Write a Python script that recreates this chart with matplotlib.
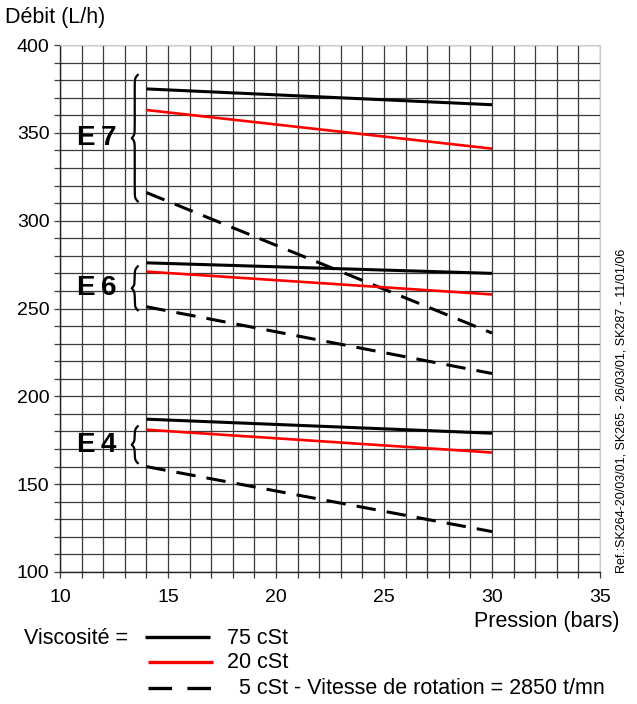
import matplotlib
matplotlib.use('Agg')
import matplotlib.pyplot as plt
from matplotlib.lines import Line2D
import numpy as np

plt.rcParams['font.family'] = ['Liberation Sans', 'DejaVu Sans']
plt.rcParams['lines.scale_dashes'] = False

# Pression (bars) at start / end of each curve
pression = [14, 30]

# Débit (L/h) for each pump size and viscosity
e7_75 = [375, 366]
e7_20 = [363, 341]
e7_5 = [316, 236]
e6_75 = [276, 270]
e6_20 = [271, 258]
e6_5 = [251, 213]
e4_75 = [187, 179]
e4_20 = [181, 168]
e4_5 = [160, 123]

pompes = ['E7', 'E6', 'E4']
series = [(e7_75, e7_20, e7_5), (e6_75, e6_20, e6_5), (e4_75, e4_20, e4_5)]
# vertical extent of each brace (top, bottom)
accolades = [(383, 311), (274, 249), (183, 162)]

fig = plt.figure(figsize=(6.37, 7.04), dpi=100)
ax = fig.add_axes((60 / 637, 1 - 572 / 704, 540 / 637, 527 / 704))

ax.set_xlim(10, 35)
ax.set_ylim(100, 400)
ax.set_xticks(np.arange(10, 36, 5))
ax.set_xticks(np.arange(10, 36, 1), minor=True)
ax.set_yticks(np.arange(100, 401, 50))
ax.set_yticks(np.arange(100, 401, 10), minor=True)
ax.grid(True, which='both', color='#3a3a3a', linewidth=0.9)
ax.set_axisbelow(True)
ax.tick_params(which='both', length=4.5, width=0.9, color='#3a3a3a',
               labelsize=14, pad=3)
ax.tick_params(axis='x', pad=8)
for s in ['top', 'right']:
    ax.spines[s].set_color('#cccccc')
for s in ['left', 'bottom']:
    ax.spines[s].set_color('#222222')
    ax.spines[s].set_linewidth(1.0)

for (v75, v20, v5) in series:
    ax.plot(pression, v75, color='black', lw=2.2, solid_capstyle='butt')
    ax.plot(pression, v20, color='#ff0000', lw=1.9, solid_capstyle='butt')
    ax.plot(pression, v5, color='black', lw=2.2, dashes=(14, 8),
            dash_capstyle='butt')


def accolade(ax, x_right, y_top, y_bot, w=0.28, beta=1.1):
    L = y_top - y_bot
    s = np.linspace(0, L / 2, 200)
    f = 1 / (1 + np.exp(-beta * s)) + 1 / (1 + np.exp(-beta * (s - L / 2)))
    ys = np.concatenate([y_top - s, y_bot + s[::-1]])
    xs = np.concatenate([x_right - w * (f - 0.5), x_right - w * (f[::-1] - 0.5)])
    ax.plot(xs, ys, color='black', lw=1.6, clip_on=False)


for nom, (yt, yb) in zip(pompes, accolades):
    accolade(ax, 13.6, yt, yb)
    ax.text(11.72, (yt + yb) / 2, nom[0] + '\u2009' + nom[1], fontsize=20,
            fontweight='bold', ha='center', va='center')

fig.text(5 / 637, 1 - 17 / 704, 'Débit (L/h)', fontsize=15.5, ha='left', va='center')
fig.text(620 / 637, 1 - 621 / 704, 'Pression (bars)', fontsize=15.5,
         ha='right', va='center')
fig.text(622 / 637, 1 - 573 / 704,
         'Ref.:SK264-20/03/01, SK265 - 26/03/01, SK287 - 11/01/06',
         fontsize=9, rotation=90, ha='center', va='bottom')

# legend drawn by hand
fig.text(24 / 637, 1 - 638 / 704, 'Viscosité =', fontsize=15.5, va='center')
fig.add_artist(Line2D([145 / 637, 210 / 637], [1 - 637 / 704] * 2,
                      color='black', lw=2.4, solid_capstyle='butt'))
fig.add_artist(Line2D([148 / 637, 213 / 637], [1 - 662 / 704] * 2,
                      color='#ff0000', lw=2.4, solid_capstyle='butt'))
fig.add_artist(Line2D([148 / 637, 213 / 637], [1 - 688 / 704] * 2,
                      color='black', lw=2.4, dashes=(17, 11), dash_capstyle='butt'))
fig.text(227 / 637, 1 - 638 / 704, '75 cSt', fontsize=15.5, va='center')
fig.text(227 / 637, 1 - 663 / 704, '20 cSt', fontsize=15.5, va='center')
fig.text(239 / 637, 1 - 689 / 704, '5 cSt - Vitesse de rotation = 2850 t/mn',
         fontsize=15.5, va='center')

fig.savefig('out.png', dpi=100)
